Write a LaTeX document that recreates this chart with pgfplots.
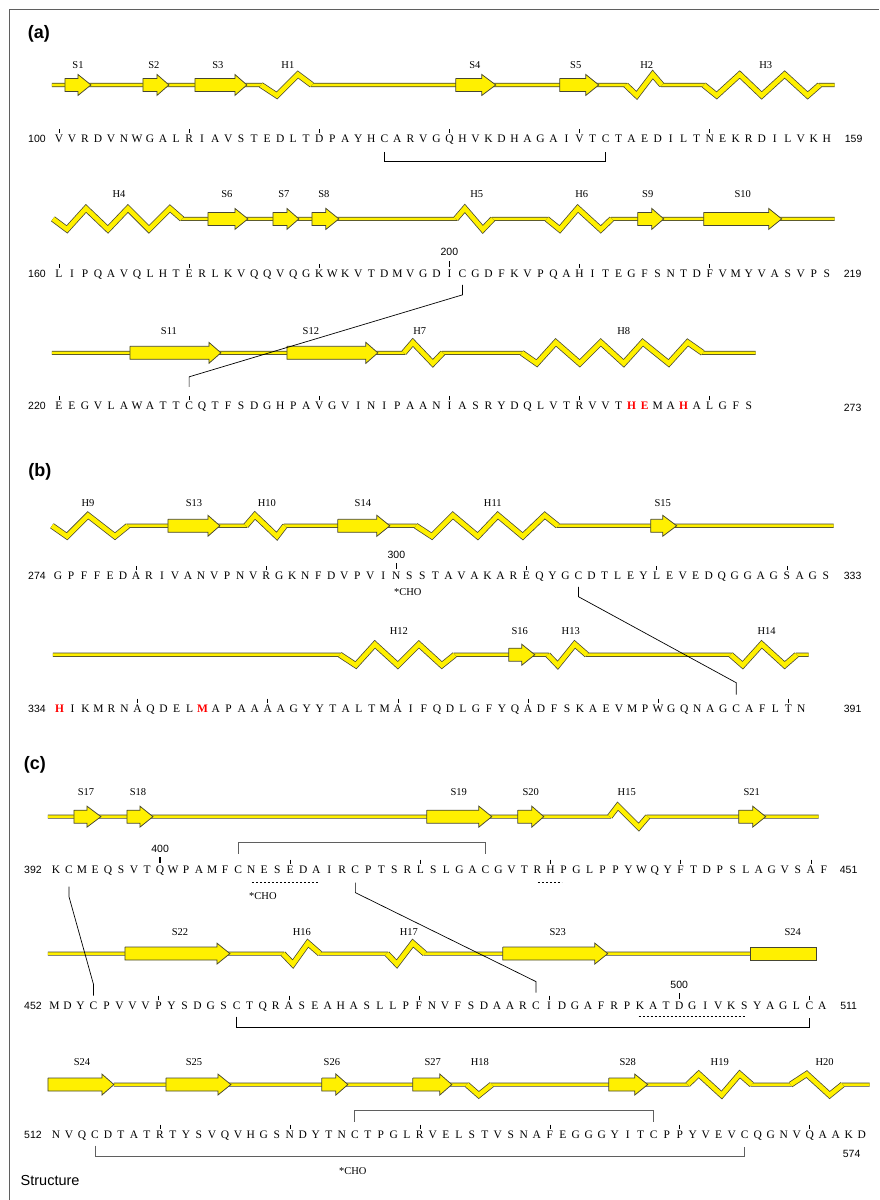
\documentclass[border=0pt]{standalone}
\usepackage{fontspec}
\setmainfont{Liberation Serif}
\setsansfont{Liberation Sans}
\usepackage{pgfplots}
\pgfplotsset{compat=1.18}
\definecolor{ribyel}{RGB}{255,240,0}
\definecolor{ribedge}{RGB}{70,70,50}
\definecolor{ssgray}{RGB}{95,95,95}
\protected\def\rH{{\color{red}\bfseries H}}
\protected\def\rE{{\color{red}\bfseries E}}
\protected\def\rM{{\color{red}\bfseries M}}
\pgfplotsset{
 coil/.style={draw=ribedge, line width=0.75pt, double=ribyel, double distance=2.6pt, line join=miter, mark=none},
 helix/.style={draw=ribedge, line width=0.75pt, double=ribyel, double distance=4.6pt, line join=miter, mark=none},
 strandsty/.style={fill=ribyel, draw=ribedge, line width=0.75pt, mark=none, line join=miter},
 seqrow/.style={draw=none, mark=none, nodes near coords={\pgfplotspointmeta}, point meta=explicit symbolic,
   every node near coord/.append style={anchor=base, inner sep=0pt, font=\fontsize{11.5}{13}\selectfont, text=black}},
 sslabel/.style={draw=none, mark=none, nodes near coords={\pgfplotspointmeta}, point meta=explicit symbolic,
   every node near coord/.append style={anchor=base, inner sep=0pt, font=\fontsize{10.5}{12}\selectfont, text=black}},
 ticks/.style={only marks, mark=|, mark size=2pt, mark options={line width=0.5pt, draw=black}},
 bticks/.style={only marks, mark=|, mark size=3pt, mark options={line width=1.3pt, draw=black}},
 ssb/.style={black, line width=0.7pt, mark=none},
 ssg/.style={ssgray, line width=0.8pt, mark=none},
 dsh/.style={black, line width=0.6pt, dash pattern=on 2pt off 2pt, mark=none},
}
\newcommand\strand[4]{%
 \pgfmathsetmacro\ya{#4-6.5}\pgfmathsetmacro\yb{#4+6.5}%
 \pgfmathsetmacro\yc{#4-10.5}\pgfmathsetmacro\yd{#4+10.5}%
 \edef\tmp{\noexpand\addplot[strandsty] coordinates {(#1,\ya) (#2,\ya) (#2,\yc) (#3,#4) (#2,\yd) (#2,\yb) (#1,\yb) (#1,\ya)};}\tmp}
\newcommand\nfont{\sffamily\fontsize{10.5}{12}\selectfont}
\newcommand\cfont{\fontsize{10.5}{12}\selectfont}
\begin{document}
\begin{tikzpicture}
\begin{axis}[width=879pt, height=1200pt, scale only axis, xmin=0, xmax=879, ymin=0, ymax=1200,
  y dir=reverse, hide axis, clip=false]
\addplot[fill=white, draw=none, mark=none] coordinates {(0,0) (879,0) (879,1200) (0,1200) (0,0)};
\addplot[ssgray, line width=1pt, mark=none] coordinates {(10,1200) (10,10) (879,10)};
% ---------------- Row 1 -----------------
\addplot[coil] coordinates {(52,85) (261,85) (277,95.5) (298,74.5) (312,85) (626,85) (637,95.5) (653,74.5) (662,85) (704,85) (717,95.5) (740,74.5) (762,95.5) (785,74.5) (808,95.5) (820,85) (835,85)};
\addplot[helix] coordinates {(261,85) (277,95.5) (298,74.5) (312,85)};
\addplot[helix] coordinates {(626,85) (637,95.5) (653,74.5) (662,85)};
\addplot[helix] coordinates {(704,85) (717,95.5) (740,74.5) (762,95.5) (785,74.5) (808,95.5) (820,85)};
\strand{65}{78}{91}{85}\strand{143}{157}{169}{85}\strand{195}{235}{247}{85}\strand{456}{482}{496}{85}\strand{560}{586}{599}{85}
\addplot[sslabel] coordinates {(78,68.5)[S1] (154,68.5)[S2] (218,68.5)[S3] (288,68.5)[H1] (475,68.5)[S4] (576,68.5)[S5] (647,68.5)[H2] (766,68.5)[H3]};
% ---------------- Row 2 -----------------
\addplot[coil] coordinates {(53,219) (67,229.5) (86,208.5) (108,229.5) (128,208.5) (149,229.5) (170,208.5) (182,219) (456,219) (465,208.5) (483,229.5) (493,219) (547,219) (560,229.5) (578,208.5) (601,229.5) (612,219) (835,219)};
\addplot[helix] coordinates {(53,219) (67,229.5) (86,208.5) (108,229.5) (128,208.5) (149,229.5) (170,208.5) (182,219)};
\addplot[helix] coordinates {(456,219) (465,208.5) (483,229.5) (493,219)};
\addplot[helix] coordinates {(547,219) (560,229.5) (578,208.5) (601,229.5) (612,219)};
\strand{208}{235}{248}{219}\strand{273}{287}{299}{219}\strand{312}{326}{339}{219}\strand{638}{652}{664}{219}\strand{704}{769}{782}{219}
\addplot[sslabel] coordinates {(119,197.5)[H4] (227,197.5)[S6] (284,197.5)[S7] (324,197.5)[S8] (477,197.5)[H5] (582,197.5)[H6] (648,197.5)[S9] (743,197.5)[S10]};
% ---------------- Row 3 -----------------
\addplot[coil] coordinates {(52,353) (404,353) (413,342.5) (433,363.5) (443,353) (522,353) (537,363.5) (556,342.5) (580,363.5) (601,342.5) (624,363.5) (643,342.5) (669,363.5) (688,342.5) (703,353) (756,353)};
\addplot[helix] coordinates {(404,353) (413,342.5) (433,363.5) (443,353)};
\addplot[helix] coordinates {(522,353) (537,363.5) (556,342.5) (580,363.5) (601,342.5) (624,363.5) (643,342.5) (669,363.5) (688,342.5) (703,353)};
\strand{130}{209}{221}{353}\strand{287}{366}{378}{353}
\addplot[sslabel] coordinates {(169,334.5)[S11] (311,334.5)[S12] (420,334.5)[H7] (624,334.5)[H8]};
% ---------------- Row 4 -----------------
\addplot[coil] coordinates {(52,526) (67,536.5) (88,515.5) (115,536.5) (128,526) (246,526) (255,515.5) (277,536.5) (285,526) (416,526) (432,536.5) (453,515.5) (478,536.5) (498,515.5) (523,536.5) (545,515.5) (558,526) (834,526)};
\addplot[helix] coordinates {(52,526) (67,536.5) (88,515.5) (115,536.5) (128,526)};
\addplot[helix] coordinates {(246,526) (255,515.5) (277,536.5) (285,526)};
\addplot[helix] coordinates {(416,526) (432,536.5) (453,515.5) (478,536.5) (498,515.5) (523,536.5) (545,515.5) (558,526)};
\strand{168}{208}{220}{526}\strand{338}{377}{390}{526}\strand{651}{663}{677}{526}
\addplot[sslabel] coordinates {(88,506.5)[H9] (194,506.5)[S13] (267,506.5)[H10] (363,506.5)[S14] (493,506.5)[H11] (663,506.5)[S15]};
% ---------------- Row 5 -----------------
\addplot[coil] coordinates {(53,655) (340,655) (356,665.5) (375,644.5) (398,665.5) (419,644.5) (442,665.5) (455,655) (548,655) (558,665.5) (575,644.5) (587,655) (731,655) (743,665.5) (762,644.5) (785,665.5) (797,655) (809,655)};
\addplot[helix] coordinates {(340,655) (356,665.5) (375,644.5) (398,665.5) (419,644.5) (442,665.5) (455,655)};
\addplot[helix] coordinates {(548,655) (558,665.5) (575,644.5) (587,655)};
\addplot[helix] coordinates {(731,655) (743,665.5) (762,644.5) (785,665.5) (797,655)};
\strand{509}{522}{535}{655}
\addplot[sslabel] coordinates {(399,634.5)[H12] (520,634.5)[S16] (571,634.5)[H13] (767,634.5)[H14]};
% ---------------- Row 6 -----------------
\addplot[coil] coordinates {(48,817) (610,817) (618,806.5) (639,827.5) (648,817) (819,817)};
\addplot[helix] coordinates {(610,817) (618,806.5) (639,827.5) (648,817)};
\strand{74}{87}{101}{817}\strand{127}{140}{153}{817}\strand{427}{479}{492}{817}\strand{518}{532}{544}{817}\strand{739}{753}{766}{817}
\addplot[sslabel] coordinates {(86,795.5)[S17] (138,795.5)[S18] (459,795.5)[S19] (531,795.5)[S20] (627,795.5)[H15] (752,795.5)[S21]};
% ---------------- Row 7 -----------------
\addplot[coil] coordinates {(48,954) (283,954) (293,964.5) (308,943.5) (320,954) (387,954) (397,964.5) (413,943.5) (425,954) (751,954)};
\addplot[helix] coordinates {(283,954) (293,964.5) (308,943.5) (320,954)};
\addplot[helix] coordinates {(387,954) (397,964.5) (413,943.5) (425,954)};
\strand{125}{217}{230}{954}\strand{503}{595}{608}{954}
\addplot[strandsty] coordinates {(751,947.5) (817,947.5) (817,960.5) (751,960.5) (751,947.5)};
\addplot[sslabel] coordinates {(180,935.5)[S22] (302,935.5)[H16] (409,935.5)[H17] (558,935.5)[S23] (793,935.5)[S24]};
% ---------------- Row 8 -----------------
\addplot[coil] coordinates {(114,1085) (467,1085) (479,1095.5) (492,1085) (688,1085) (699,1074.5) (722,1095.5) (740,1074.5) (752,1085) (791,1085) (807,1074.5) (830,1095.5) (843,1085) (870,1085)};
\addplot[helix] coordinates {(467,1085) (479,1095.5) (492,1085)};
\addplot[helix] coordinates {(688,1085) (699,1074.5) (722,1095.5) (740,1074.5) (752,1085)};
\addplot[helix] coordinates {(791,1085) (807,1074.5) (830,1095.5) (843,1085)};
\strand{48}{102}{114}{1085}\strand{166}{218}{231}{1085}\strand{322}{336}{348}{1085}\strand{413}{440}{452}{1085}\strand{609}{635}{648}{1085}
\addplot[sslabel] coordinates {(82,1065.5)[S24] (194,1065.5)[S25] (332,1065.5)[S26] (433,1065.5)[S27] (480,1065.5)[H18] (628,1065.5)[S28] (720,1065.5)[H19] (825,1065.5)[H20]};
% ---------------- Sequences -----------------
\addplot[seqrow] table[header=false, row sep=\\, x expr={59+13.02*\coordindex}, y expr=143, meta index=0]
{V\\V\\R\\D\\V\\N\\W\\G\\A\\L\\R\\I\\A\\V\\S\\T\\E\\D\\L\\T\\D\\P\\A\\Y\\H\\C\\A\\R\\V\\G\\Q\\H\\V\\K\\D\\H\\A\\G\\A\\I\\V\\T\\C\\T\\A\\E\\D\\I\\L\\T\\N\\E\\K\\R\\D\\I\\L\\V\\K\\H\\};
\addplot[seqrow] table[header=false, row sep=\\, x expr={59+13.02*\coordindex}, y expr=278, meta index=0]
{L\\I\\P\\Q\\A\\V\\Q\\L\\H\\T\\E\\R\\L\\K\\V\\Q\\Q\\V\\Q\\G\\K\\W\\K\\V\\T\\D\\M\\V\\G\\D\\I\\C\\G\\D\\F\\K\\V\\P\\Q\\A\\H\\I\\T\\E\\G\\F\\S\\N\\T\\D\\F\\V\\M\\Y\\V\\A\\S\\V\\P\\S\\};
\addplot[seqrow] table[header=false, row sep=\\, x expr={59+13.02*\coordindex}, y expr=410, meta index=0]
{E\\E\\G\\V\\L\\A\\W\\A\\T\\T\\C\\Q\\T\\F\\S\\D\\G\\H\\P\\A\\V\\G\\V\\I\\N\\I\\P\\A\\A\\N\\I\\A\\S\\R\\Y\\D\\Q\\L\\V\\T\\R\\V\\V\\T\\\rH\\\rE\\M\\A\\\rH\\A\\L\\G\\F\\S\\};
\addplot[seqrow] table[header=false, row sep=\\, x expr={58+13.02*\coordindex}, y expr=580, meta index=0]
{G\\P\\F\\F\\E\\D\\A\\R\\I\\V\\A\\N\\V\\P\\N\\V\\R\\G\\K\\N\\F\\D\\V\\P\\V\\I\\N\\S\\S\\T\\A\\V\\A\\K\\A\\R\\E\\Q\\Y\\G\\C\\D\\T\\L\\E\\Y\\L\\E\\V\\E\\D\\Q\\G\\G\\A\\G\\S\\A\\G\\S\\};
\addplot[seqrow] table[header=false, row sep=\\, x expr={59.5+13.02*\coordindex}, y expr=713, meta index=0]
{\rH\\I\\K\\M\\R\\N\\A\\Q\\D\\E\\L\\\rM\\A\\P\\A\\A\\A\\A\\G\\Y\\Y\\T\\A\\L\\T\\M\\A\\I\\F\\Q\\D\\L\\G\\F\\Y\\Q\\A\\D\\F\\S\\K\\A\\E\\V\\M\\P\\W\\G\\Q\\N\\A\\G\\C\\A\\F\\L\\T\\N\\};
\addplot[seqrow] table[header=false, row sep=\\, x expr={56+13.02*\coordindex}, y expr=874, meta index=0]
{K\\C\\M\\E\\Q\\S\\V\\T\\Q\\W\\P\\A\\M\\F\\C\\N\\E\\S\\E\\D\\A\\I\\R\\C\\P\\T\\S\\R\\L\\S\\L\\G\\A\\C\\G\\V\\T\\R\\H\\P\\G\\L\\P\\P\\Y\\W\\Q\\Y\\F\\T\\D\\P\\S\\L\\A\\G\\V\\S\\A\\F\\};
\addplot[seqrow] table[header=false, row sep=\\, x expr={54.5+13.02*\coordindex}, y expr=1010, meta index=0]
{M\\D\\Y\\C\\P\\V\\V\\V\\P\\Y\\S\\D\\G\\S\\C\\T\\Q\\R\\A\\S\\E\\A\\H\\A\\S\\L\\L\\P\\F\\N\\V\\F\\S\\D\\A\\A\\R\\C\\I\\D\\G\\A\\F\\R\\P\\K\\A\\T\\D\\G\\I\\V\\K\\S\\Y\\A\\G\\L\\C\\A\\};
\addplot[seqrow] table[header=false, row sep=\\, x expr={56+13.0*\coordindex}, y expr=1139, meta index=0]
{N\\V\\Q\\C\\D\\T\\A\\T\\R\\T\\Y\\S\\V\\Q\\V\\H\\G\\S\\N\\D\\Y\\T\\N\\C\\T\\P\\G\\L\\R\\V\\E\\L\\S\\T\\V\\S\\N\\A\\F\\E\\G\\G\\G\\Y\\I\\T\\C\\P\\P\\Y\\V\\E\\V\\C\\Q\\G\\N\\V\\Q\\A\\A\\K\\D\\};
% ---------------- Ticks -----------------
\addplot[ticks] coordinates {(59,131) (189.2,131) (319.4,131) (449.6,131) (579.8,131) (710,131)};
\addplot[ticks] coordinates {(59,266) (189.2,266) (319.4,266) (579.8,266) (710,266)};
\addplot[ticks] coordinates {(59,398) (189.2,398) (319.4,398) (449.6,398) (579.8,398) (710,398)};
\addplot[ticks] coordinates {(136.1,568) (266.3,568) (526.7,568) (656.9,568) (787.1,568)};
\addplot[ticks] coordinates {(137.6,701) (267.8,701) (398,701) (528.2,701) (658.4,701) (788.6,701)};
\addplot[ticks] coordinates {(290.4,862) (420.6,862) (550.8,862) (681,862) (811.2,862)};
\addplot[ticks] coordinates {(158.7,998) (288.9,998) (419.1,998) (549.3,998) (809.7,998)};
\addplot[ticks] coordinates {(160,1127) (290,1127) (420,1127) (550,1127) (680,1127) (810,1127)};
\addplot[bticks] coordinates {(449.6,264.5) (396.5,566.5) (160.2,860.5) (679.5,996.5)};
% ---------------- Disulfide bonds -----------------
\addplot[ssb] coordinates {(384.5,152) (384.5,161) (605.8,161) (605.8,152)};
\addplot[ssb] coordinates {(462.6,285) (462.6,295) (189.2,377) (189.2,387)};
\addplot[ssb] coordinates {(578.8,587) (578.8,597) (736.5,683) (736.5,695)};
\addplot[ssg] coordinates {(238.3,854) (238.3,843) (485.7,843) (485.7,854)};
\addplot[ssb] coordinates {(69,887) (69,897) (93.6,985) (93.6,996)};
\addplot[ssb] coordinates {(355.5,883) (355.5,893) (536.2,982) (536.2,993)};
\addplot[ssb] coordinates {(236.8,1017) (236.8,1028) (809.7,1028) (809.7,1018)};
\addplot[ssg] coordinates {(355,1122) (355,1111) (654,1111) (654,1122)};
\addplot[ssg] coordinates {(95,1146) (95,1157) (745,1157) (745,1147)};
\addplot[dsh] coordinates {(252,883) (319,883)};
\addplot[dsh] coordinates {(538,883) (562,883)};
\addplot[dsh] coordinates {(639,1017) (746,1017)};
% ---------------- Text -----------------
\node[font=\sffamily\bfseries\fontsize{18}{20}\selectfont, inner sep=0pt] at (axis cs:39,34) {(a)};
\node[font=\sffamily\bfseries\fontsize{18}{20}\selectfont, inner sep=0pt] at (axis cs:40,472) {(b)};
\node[font=\sffamily\bfseries\fontsize{18}{20}\selectfont, inner sep=0pt] at (axis cs:35,765) {(c)};
\node[font=\nfont, anchor=base, inner sep=0pt] at (axis cs:37,143) {100};
\node[font=\nfont, anchor=base, inner sep=0pt] at (axis cs:854,143) {159};
\node[font=\nfont, anchor=base, inner sep=0pt] at (axis cs:37,278) {160};
\node[font=\nfont, anchor=base, inner sep=0pt] at (axis cs:853,278) {219};
\node[font=\nfont, anchor=base, inner sep=0pt] at (axis cs:37,410) {220};
\node[font=\nfont, anchor=base, inner sep=0pt] at (axis cs:853,411.5) {273};
\node[font=\nfont, anchor=base, inner sep=0pt] at (axis cs:37,580) {274};
\node[font=\nfont, anchor=base, inner sep=0pt] at (axis cs:853,580) {333};
\node[font=\nfont, anchor=base, inner sep=0pt] at (axis cs:37,713) {334};
\node[font=\nfont, anchor=base, inner sep=0pt] at (axis cs:853,713) {391};
\node[font=\nfont, anchor=base, inner sep=0pt] at (axis cs:33,874) {392};
\node[font=\nfont, anchor=base, inner sep=0pt] at (axis cs:849,874) {451};
\node[font=\nfont, anchor=base, inner sep=0pt] at (axis cs:33,1010) {452};
\node[font=\nfont, anchor=base, inner sep=0pt] at (axis cs:849,1010) {511};
\node[font=\nfont, anchor=base, inner sep=0pt] at (axis cs:33,1139) {512};
\node[font=\nfont, anchor=base, inner sep=0pt] at (axis cs:852,1157.5) {574};
\node[font=\nfont, anchor=base, inner sep=0pt] at (axis cs:449.6,255.5) {200};
\node[font=\nfont, anchor=base, inner sep=0pt] at (axis cs:396.5,558.5) {300};
\node[font=\nfont, anchor=base, inner sep=0pt] at (axis cs:160.2,852.5) {400};
\node[font=\nfont, anchor=base, inner sep=0pt] at (axis cs:679.5,988.5) {500};
\node[font=\cfont, anchor=base, inner sep=0pt] at (axis cs:408,595.5) {*CHO};
\node[font=\cfont, anchor=base, inner sep=0pt] at (axis cs:263,899.5) {*CHO};
\node[font=\cfont, anchor=base, inner sep=0pt] at (axis cs:353,1174.5) {*CHO};
\node[font=\sffamily\fontsize{14.5}{16}\selectfont, anchor=base west, inner sep=0pt] at (axis cs:20.5,1186) {Structure};
\end{axis}
\end{tikzpicture}
\end{document}
